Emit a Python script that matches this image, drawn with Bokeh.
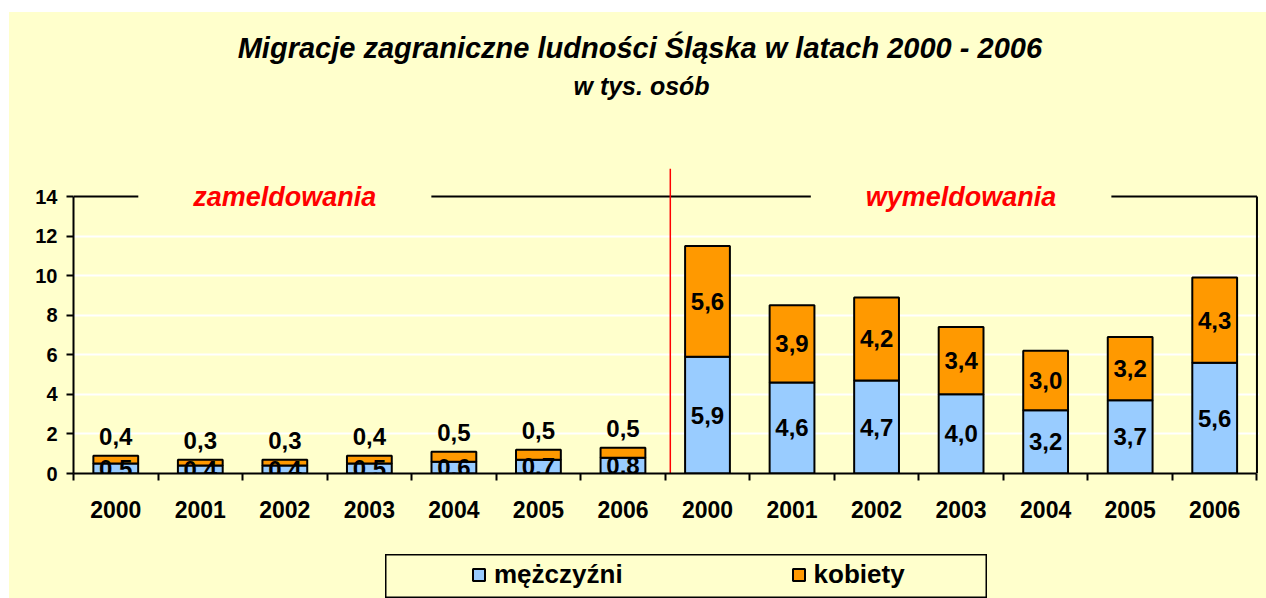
from bokeh.plotting import figure
from bokeh.models import (Range1d, FixedTicker, ColumnDataSource, Label,
                          Legend, LegendItem, Spacer)
from bokeh.layouts import column, row
from bokeh.core.properties import value
from bokeh.embed import file_html
from bokeh.resources import INLINE

# ---- data ----
years = ["2000", "2001", "2002", "2003", "2004", "2005", "2006"]
groups = ["zameldowania", "wymeldowania"]
in_men = [0.5, 0.4, 0.4, 0.5, 0.6, 0.7, 0.8]
in_women = [0.4, 0.3, 0.3, 0.4, 0.5, 0.5, 0.5]
out_men = [5.9, 4.6, 4.7, 4.0, 3.2, 3.7, 5.6]
out_women = [5.6, 3.9, 4.2, 3.4, 3.0, 3.2, 4.3]
y_ticks = [0, 2, 4, 6, 8, 10, 12, 14]
series_names = ["mężczyźni", "kobiety"]
title = "Migracje zagraniczne ludności Śląska w latach 2000 - 2006"
subtitle = "w tys. osób"

BG = "#FFFFCC"
BLUE = "#99CCFF"
ORANGE = "#FF9900"
FONT = "Liberation Sans"

labels_x = years + years
men = in_men + out_men
women = in_women + out_women
n = len(labels_x)
k = len(years)
xs = [i + 0.5 for i in range(n)]
tops = [m + w for m, w in zip(men, women)]

def fmt(v):
    return ("%.1f" % v).replace(".", ",")

src = ColumnDataSource(dict(x=xs, men=men, top=tops,
                            men_y=[m / 2 for m in men],
                            men_lab=[fmt(v) for v in men]))

# frame spans the whole upper area, titles live inside it above the value axis
Y_END = 23.3
p = figure(width=1257, height=542, x_range=Range1d(0, n + 0.03), y_range=Range1d(0, Y_END),
           toolbar_location=None, output_backend="svg",
           min_border_left=64, min_border_right=7, min_border_top=0, min_border_bottom=81,
           background_fill_color=BG, border_fill_color=BG, outline_line_color=None)

# grid
p.xgrid.visible = False
p.ygrid.ticker = FixedTicker(ticks=y_ticks[1:-1])
p.ygrid.grid_line_color = "white"
p.ygrid.grid_line_width = 2

# bars
p.vbar(x="x", bottom=0, top="men", width=0.53, source=src,
       fill_color=BLUE, line_color="black", line_width=2)
p.vbar(x="x", bottom="men", top="top", width=0.53, source=src,
       fill_color=ORANGE, line_color="black", line_width=2)

# frame lines (top and right border of the value area) and group divider
p.segment(x0=[0, n], y0=[y_ticks[-1], 0], x1=[n, n], y1=[y_ticks[-1], y_ticks[-1]],
          line_color="black", line_width=2)
p.segment(x0=[n / 2 + 0.06], y0=[0], x1=[n / 2 + 0.06], y1=[15.4],
          line_color="red", line_width=1.5)

# value labels
p.text(x="x", y="men_y", text="men_lab", source=src, text_align="center",
       text_baseline="middle", text_font=value(FONT), text_font_size="24px",
       text_font_style="bold", text_color="black")
src_in_w = ColumnDataSource(dict(x=xs[:k], y=tops[:k], lab=[fmt(v) for v in in_women]))
p.text(x="x", y="y", text="lab", source=src_in_w, text_align="center",
       text_baseline="bottom", y_offset=-11, text_font=value(FONT), text_font_size="24px",
       text_font_style="bold", text_color="black")
src_out_w = ColumnDataSource(dict(x=xs[k:], y=[m + w / 2 for m, w in zip(out_men, out_women)],
                                  lab=[fmt(v) for v in out_women]))
p.text(x="x", y="y", text="lab", source=src_out_w, text_align="center",
       text_baseline="middle", text_font=value(FONT), text_font_size="24px",
       text_font_style="bold", text_color="black")

# group labels over the top line
group_label_x = [k / 2 - 1, k + k / 2]
for g, gx in zip(groups, group_label_x):
    p.add_layout(Label(x=gx, y=y_ticks[-1], text=g, text_align="center",
                       text_baseline="middle", text_font=FONT, text_font_size="27px",
                       text_font_style="bold italic", text_color="red",
                       background_fill_color=BG,
                       padding=dict(left=55, right=55, top=2, bottom=2)))

# titles
p.add_layout(Label(x=n / 2 - 0.3, y=21.53, text=title, text_align="center",
                   text_baseline="middle", text_font=FONT, text_font_size="29px",
                   text_font_style="bold italic", text_color="black"))
p.add_layout(Label(x=n / 2 - 0.28, y=19.6, text=subtitle, text_align="center",
                   text_baseline="middle", text_font=FONT, text_font_size="25px",
                   text_font_style="bold italic", text_color="black"))

# axes
p.yaxis.ticker = FixedTicker(ticks=y_ticks)
p.yaxis.bounds = (0, y_ticks[-1])
p.yaxis.axis_line_width = 2
p.yaxis.major_tick_line_width = 2
p.yaxis.major_tick_out = 7
p.yaxis.major_tick_in = 0
p.yaxis.minor_tick_line_color = None
p.yaxis.major_label_text_font = FONT
p.yaxis.major_label_text_font_size = "20px"
p.yaxis.major_label_text_font_style = "bold"
p.yaxis.major_label_text_color = "black"
p.yaxis.major_label_standoff = 9

p.xaxis.ticker = FixedTicker(ticks=xs, minor_ticks=list(range(n + 1)))
p.xaxis.major_label_overrides = {x: lab for x, lab in zip(xs, labels_x)}
p.xaxis.bounds = (0, n)
p.xaxis.axis_line_width = 2
p.xaxis.major_tick_line_color = None
p.xaxis.minor_tick_line_width = 2
p.xaxis.minor_tick_out = 7
p.xaxis.minor_tick_in = 0
p.xaxis.major_label_text_font = FONT
p.xaxis.major_label_text_font_size = "23px"
p.xaxis.major_label_text_font_style = "bold"
p.xaxis.major_label_text_color = "black"
p.xaxis.major_label_standoff = 20

# legend box in its own small figure
leg = figure(width=602, height=44, x_range=Range1d(0, 1), y_range=Range1d(0, 1),
             toolbar_location=None, output_backend="svg", min_border=0,
             background_fill_color=BG, border_fill_color=BG,
             outline_line_color="black", outline_line_width=2)
leg.axis.visible = False
leg.grid.visible = False
lr1 = leg.vbar(x=[5], top=[1], width=0.1, fill_color=BLUE, line_color="black", line_width=2)
lr2 = leg.vbar(x=[5], top=[1], width=0.1, fill_color=ORANGE, line_color="black", line_width=2)
legend = Legend(items=[LegendItem(label=series_names[0], renderers=[lr1]),
                       LegendItem(label=series_names[1], renderers=[lr2])],
                orientation="horizontal", location=(86, 8), spacing=168,
                padding=0, margin=0, glyph_width=15, glyph_height=15, label_standoff=8,
                label_text_font=FONT, label_text_font_size="26px",
                label_text_font_style="bold", label_text_color="black",
                border_line_alpha=0, background_fill_alpha=0)
leg.add_layout(legend, "center")

yellow = {"background-color": BG}
legend_row = row(Spacer(width=376, height=44, styles=yellow), leg,
                 Spacer(width=279, height=44, styles=yellow), styles=yellow)
chart = column(p, legend_row, styles=yellow)
layout = column(Spacer(width=1266, height=12),
                row(Spacer(width=9, height=586), chart))

open("out.html", "w").write(file_html(layout, INLINE))
